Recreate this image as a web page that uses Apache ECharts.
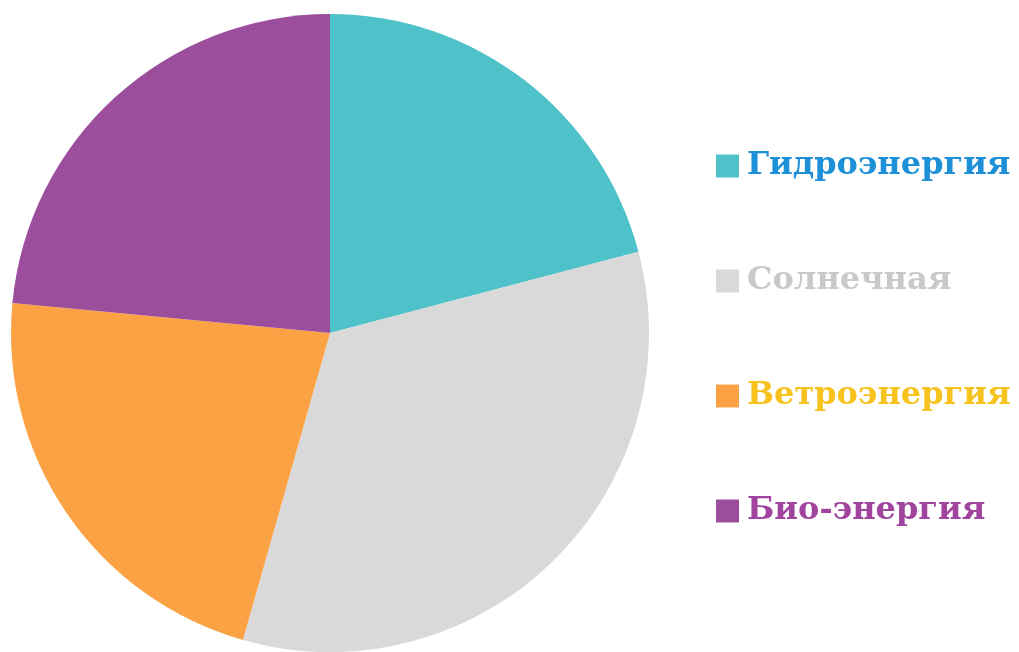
<!DOCTYPE html>
<html>
<head>
<meta charset="utf-8">
<script src="https://cdn.jsdelivr.net/npm/echarts@6/dist/echarts.min.js"></script>
<style>
  html, body { margin: 0; padding: 0; background: #fff; }
  #main { width: 1019px; height: 652px; }
</style>
</head>
<body>
<div id="main"></div>
<script>
// данные диаграммы
var categories = ['Гидроэнергия', 'Солнечная', 'Ветроэнергия', 'Био-энергия'];
var values = [20.9, 33.5, 22.1, 23.5];
var sliceColors = ['#4FC1C9', '#D9D9D9', '#FBA244', '#9A4E9C'];
var labelColors = ['#1E90D8', '#C9C9C9', '#F8C21C', '#A0449E'];

var myChart = echarts.init(document.getElementById('main'));

myChart.setOption({
  animation: false,
  color: sliceColors,
  legend: {
    orient: 'vertical',
    left: 711,
    top: 145,
    itemWidth: 23,
    itemHeight: 23,
    itemGap: 83,
    icon: 'rect',
    textStyle: {
      fontFamily: 'DejaVu Serif',
      fontWeight: 'bold',
      fontSize: 32,
      lineHeight: 32,
      padding: [0, 0, 0, 3]
    },
    data: categories.map(function (name, i) {
      return { name: name, textStyle: { color: labelColors[i] } };
    })
  },
  series: [{
    type: 'pie',
    center: [330, 333],
    radius: 319,
    startAngle: 90,
    clockwise: true,
    label: { show: false },
    labelLine: { show: false },
    emphasis: { disabled: true },
    data: categories.map(function (name, i) {
      return { name: name, value: values[i] };
    })
  }]
});
</script>
</body>
</html>
